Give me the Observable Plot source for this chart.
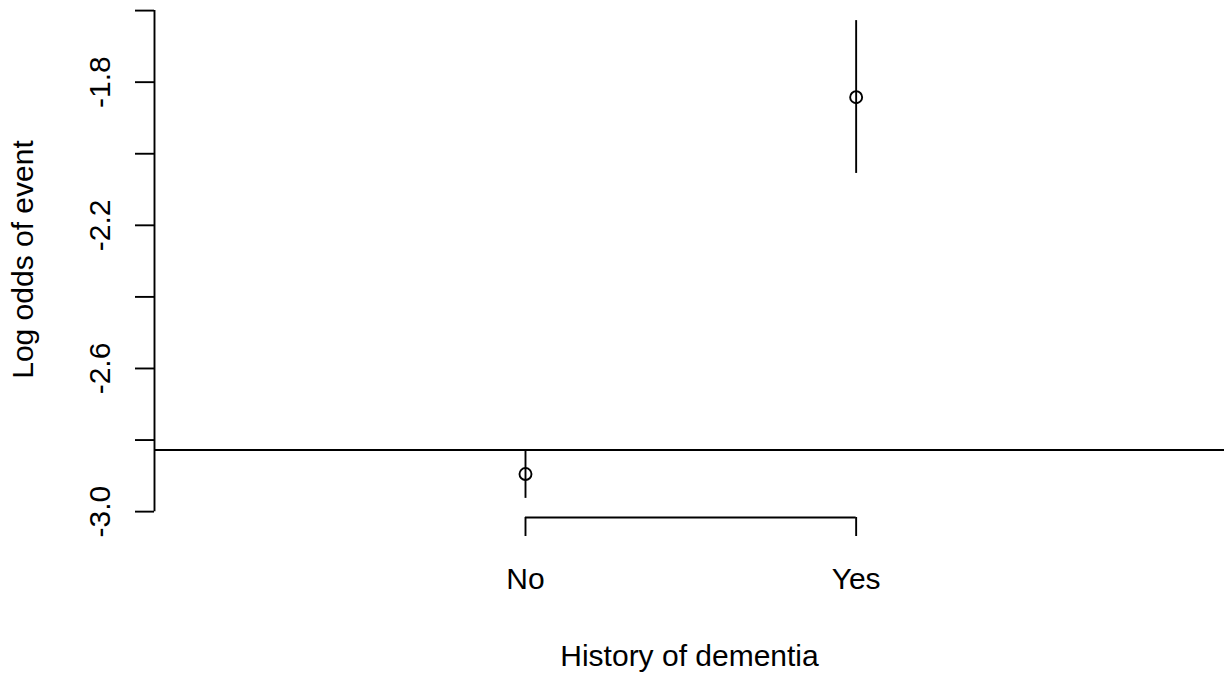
<!DOCTYPE html>
<html>
<head>
<meta charset="utf-8">
<script src="https://cdn.jsdelivr.net/npm/d3@7"></script>
<script src="https://cdn.jsdelivr.net/npm/@observablehq/plot@0.6"></script>
<style>
  html, body { margin: 0; padding: 0; background: #fff; }
  #chart svg { display: block; }
</style>
</head>
<body>
<div id="chart"></div>
<script>
// Data
const categories = ["No", "Yes"];
const positions = [1, 2];
const estimates = [-2.895, -1.842];
const lowers = [-2.963, -2.055];
const uppers = [-2.828, -1.628];
const referenceLine = -2.828;
const yTicks = [-3.0, -2.8, -2.6, -2.4, -2.2, -2.0, -1.8, -1.6];
const yTickLabels = [-3.0, -2.6, -2.2, -1.8];
const xLabel = "History of dementia";
const yLabel = "Log odds of event";

const rows = categories.map((c, i) => ({
  cat: c, pos: positions[i], est: estimates[i], lo: lowers[i], hi: uppers[i]
}));

// R-style 4% extension of the y range
const dMin = d3.min(lowers), dMax = d3.max(uppers);
const ext = 0.04 * (dMax - dMin);
const yLo = dMin - ext, yHi = dMax + ext;

const ink = "#000";
const lw = 1.9;

const chart = Plot.plot({
  width: 1224,
  height: 677,
  marginLeft: 154,
  marginRight: 0,
  marginTop: 1,
  marginBottom: 160,
  style: { fontFamily: "'Liberation Sans', Arial, sans-serif", fontSize: "30px", background: "#fff", color: "#000" },
  x: { domain: [-0.122, 3.114], label: null },
  y: { domain: [yLo, yHi], label: null },
  marks: [
    // reference line
    Plot.ruleY([referenceLine], { stroke: ink, strokeWidth: lw }),
    // y axis line
    Plot.ruleX([-0.122], { y1: yTicks[0], y2: yTicks[yTicks.length - 1], stroke: ink, strokeWidth: lw }),
    // y tick marks
    Plot.axisY({ ticks: yTicks, tickSize: 19, tickFormat: () => "", label: null, stroke: ink, strokeWidth: lw }),
    // y tick labels (rotated, R style)
    Plot.text(yTickLabels, {
      y: d => d, text: d => d.toFixed(1), frameAnchor: "left", dx: -54,
      rotate: -90, textAnchor: "middle", lineAnchor: "middle", fill: ink
    }),
    // x axis bracket
    Plot.ruleY([yLo], { x1: positions[0], x2: positions[positions.length - 1], stroke: ink, strokeWidth: lw }),
    Plot.axisX({
      ticks: positions, tickSize: 19, tickPadding: 31,
      tickFormat: d => categories[positions.indexOf(d)], label: null,
      stroke: ink, strokeWidth: lw, fill: ink
    }),
    // error bars
    Plot.ruleX(rows, { x: "pos", y1: "lo", y2: "hi", stroke: ink, strokeWidth: lw }),
    // points
    Plot.dot(rows, { x: "pos", y: "est", r: 6, stroke: ink, strokeWidth: lw, fill: "none" }),
    // axis titles
    Plot.text([xLabel], { text: d => d, frameAnchor: "bottom", dy: 139, textAnchor: "middle", lineAnchor: "middle", fill: ink }),
    Plot.text([yLabel], { text: d => d, frameAnchor: "left", dx: -131, rotate: -90, textAnchor: "middle", lineAnchor: "middle", fill: ink })
  ]
});

document.getElementById("chart").appendChild(chart);
</script>
</body>
</html>
